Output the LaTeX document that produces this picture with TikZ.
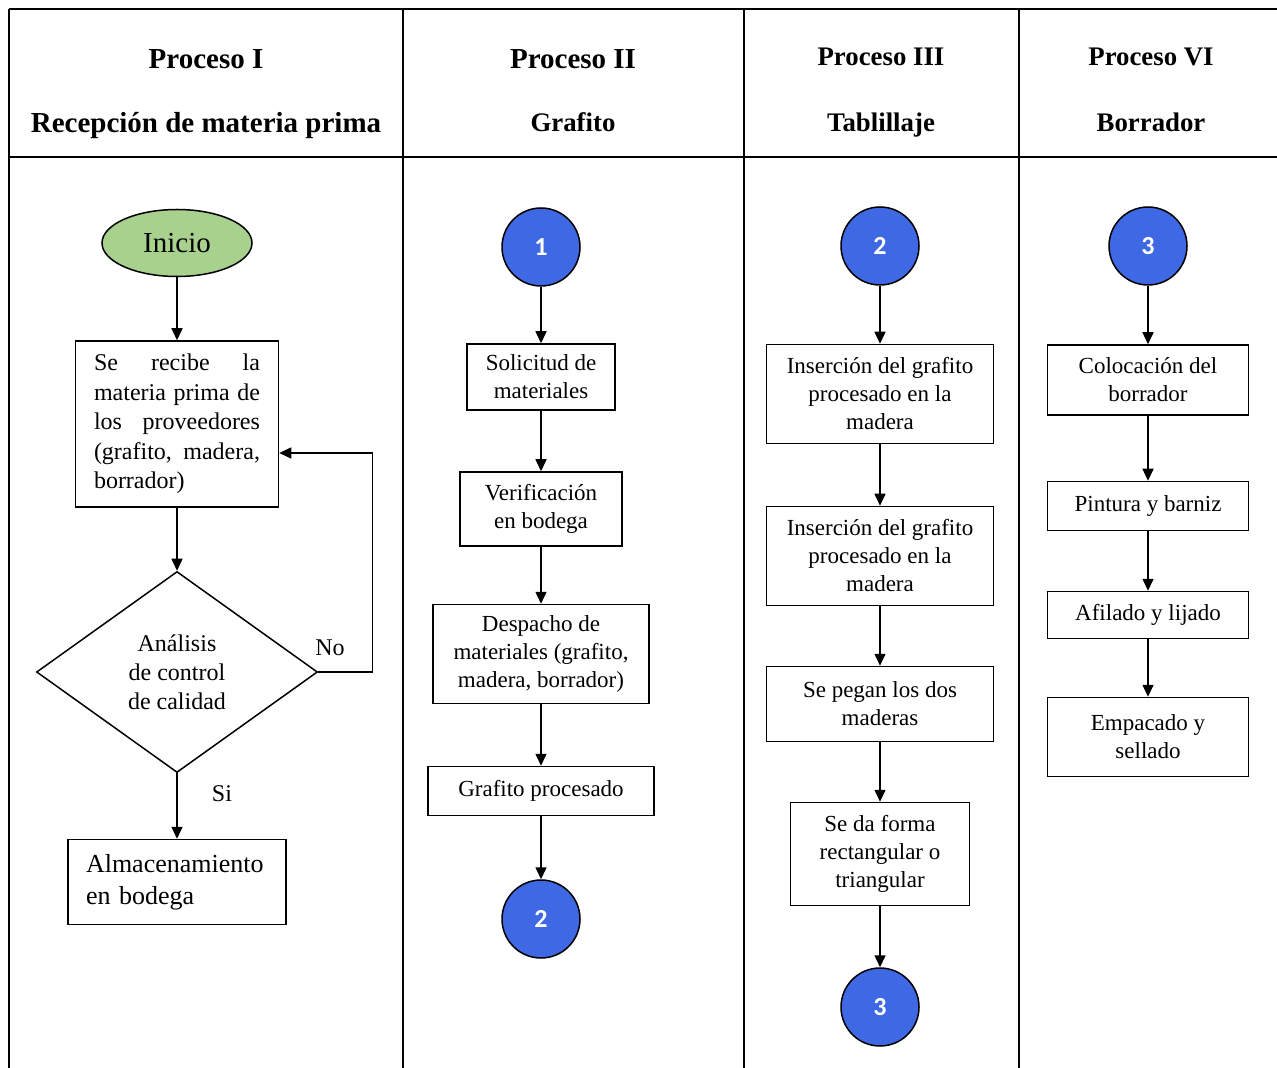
\documentclass[tikz,border=0pt]{standalone}
\usepackage{fontspec}
\setmainfont{Liberation Serif}
\newfontfamily\numfont{Carlito}
\usetikzlibrary{shapes.geometric,arrows.meta}
\definecolor{verde}{RGB}{169,209,142}
\definecolor{azul}{RGB}{62,104,228}
\newcommand{\cuerpo}{\fontsize{11.5}{14}\selectfont}
\newcommand{\encabezado}{\fontsize{14.5}{17}\selectfont\bfseries}
\newcommand{\encabezadob}{\fontsize{13.4}{16}\selectfont\bfseries}
\newcommand{\numero}{\numfont\bfseries\fontsize{13}{15}\selectfont}

\begin{document}
\begin{tikzpicture}[x=0.5pt,y=-0.5pt,
  caja/.style={draw,line width=0.75pt,align=center,inner sep=1pt,font=\cuerpo},
  enlace/.style={circle,draw,line width=0.75pt,fill=azul,minimum size=39pt,inner sep=0pt,text=white,font=\numero},
  flecha/.style={-{Triangle[length=6pt,width=5.5pt]},line width=0.75pt},
  tabla/.style={line width=1pt},
  titulo/.style={anchor=base,font=\encabezado},
  titulob/.style={anchor=base,font=\encabezadob}]
\useasboundingbox (0,0) rectangle (1277,1068);
\draw[tabla] (9,9) -- (1277,9);
\draw[tabla] (9,157) -- (1277,157);
\draw[tabla] (9,9) -- (9,1068);
\draw[tabla] (403,9) -- (403,1068);
\draw[tabla] (744,9) -- (744,1068);
\draw[tabla] (1019,9) -- (1019,1068);
\node[titulo] (p1) at (206,69) {Proceso I};
\node[titulo] (p1b) at (206,133) {Recepción de materia prima};
\node[titulo] (p2) at (573,69) {Proceso II};
\node[titulob] (p2b) at (573,132) {Grafito};
\node[titulob] (p3) at (881,66) {Proceso III};
\node[titulob] (p3b) at (881,132) {Tablillaje};
\node[titulob] (p4) at (1151,66) {Proceso VI};
\node[titulob] (p4b) at (1151,132) {Borrador};
\node[ellipse,draw,line width=0.75pt,fill=verde,minimum width=75pt,minimum height=33.5pt,inner sep=0pt,font=\fontsize{14.5}{16}\selectfont] (inicio) at (177,243) {Inicio};
\node[draw,line width=0.75pt,text width=83pt,align=justify,inner xsep=9.25pt,minimum height=83pt,font=\fontsize{12}{14.75}\selectfont] (recibe) at (177,424) {Se recibe la\linebreak materia prima de\linebreak los proveedores\linebreak (grafito, madera,\linebreak borrador)};
\node[diamond,draw,line width=0.75pt,aspect=1.4,minimum width=140.5pt,minimum height=100.5pt,inner sep=0pt,align=center,font=\fontsize{12}{14.5}\selectfont] (analisis) at (177,672) {Análisis\\de control\\de calidad};
\node[draw,line width=0.75pt,text width=91pt,align=left,inner xsep=9pt,minimum height=42.5pt,font=\fontsize{13}{16}\selectfont] (almacen) at (177,882) {Almacenamiento\\en bodega};
\node[font=\fontsize{12}{14}\selectfont] (no) at (330,648) {No};
\node[font=\fontsize{12}{14}\selectfont] (si) at (222,794) {Si};
\draw[flecha] (inicio) -- (recibe);
\draw[flecha] (recibe) -- (analisis);
\draw[flecha] (analisis) -- (almacen);
\draw[flecha] (analisis.east) -- ++(54,0) |- (recibe.east |- 0,453);
\node[enlace] (uno) at (541,247) {1};
\node[caja,minimum width=74pt,minimum height=33pt] (solicitud) at (541,377) {Solicitud de\\materiales};
\node[caja,minimum width=81pt,minimum height=37pt] (verifica) at (541,509) {Verificación\\en bodega};
\node[caja,minimum width=108pt,minimum height=49.5pt] (despacho) at (541,654) {Despacho de\\materiales (grafito,\\madera, borrador)};
\node[caja,minimum width=113pt,minimum height=24.5pt] (procesado) at (541,791) {Grafito procesado};
\node[enlace] (dos) at (541,919) {2};
\draw[flecha] (uno) -- (solicitud);
\draw[flecha] (solicitud) -- (verifica);
\draw[flecha] (verifica) -- (despacho);
\draw[flecha] (despacho) -- (procesado);
\draw[flecha] (procesado) -- (dos);
\node[enlace] (dosb) at (880,246) {2};
\node[caja,minimum width=113.5pt,minimum height=49.5pt] (insercion) at (880,394) {Inserción del grafito\\procesado en la\\madera};
\node[caja,minimum width=113.5pt,minimum height=49.5pt] (insercionb) at (880,556) {Inserción del grafito\\procesado en la\\madera};
\node[caja,minimum width=113.5pt,minimum height=37.5pt] (pegan) at (880,704) {Se pegan los dos\\maderas};
\node[caja,minimum width=89.5pt,minimum height=51.5pt] (forma) at (880,854) {Se da forma\\rectangular o\\triangular};
\node[enlace] (tres) at (880,1007) {3};
\draw[flecha] (dosb) -- (insercion);
\draw[flecha] (insercion) -- (insercionb);
\draw[flecha] (insercionb) -- (pegan);
\draw[flecha] (pegan) -- (forma);
\draw[flecha] (forma) -- (tres);
\node[enlace] (tresb) at (1148,246) {3};
\node[caja,minimum width=100.5pt,minimum height=35pt] (coloca) at (1148,380) {Colocación del\\borrador};
\node[caja,minimum width=100.5pt,minimum height=24.5pt] (pintura) at (1148,506) {Pintura y barniz};
\node[caja,minimum width=100.5pt,minimum height=23.5pt] (afilado) at (1148,615) {Afilado y lijado};
\node[caja,minimum width=100.5pt,minimum height=39.5pt] (empaca) at (1148,737) {Empacado y\\sellado};
\draw[flecha] (tresb) -- (coloca);
\draw[flecha] (coloca) -- (pintura);
\draw[flecha] (pintura) -- (afilado);
\draw[flecha] (afilado) -- (empaca);
\end{tikzpicture}
\end{document}
